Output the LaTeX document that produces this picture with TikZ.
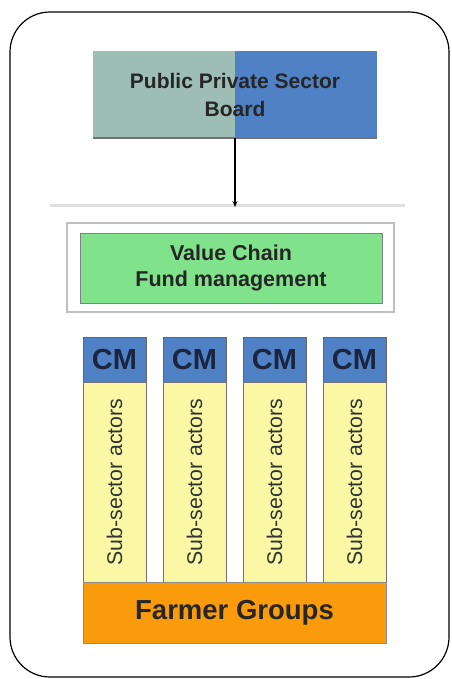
\documentclass[tikz,border=0pt]{standalone}
\usepackage{fontspec}
\setmainfont{Liberation Sans}
\usetikzlibrary{arrows.meta}
\definecolor{boardgrey}{HTML}{9DBDB5}
\definecolor{boardblue}{HTML}{4F81C4}
\definecolor{fundgreen}{HTML}{80E28A}
\definecolor{actoryellow}{HTML}{FBF8A5}
\definecolor{farmerorange}{HTML}{FA9B0B}
\definecolor{cmtext}{HTML}{1A2540}
\tikzset{
	box/.style={inner sep=0pt, minimum width=#1, anchor=center, align=center},
	cmbox/.style={box=63pt, minimum height=45pt, fill=boardblue, draw=black!60, line width=0.6pt, text=cmtext, font=\bfseries\fontsize{29}{32}\selectfont},
	actorbox/.style={box=63pt, minimum height=200pt, fill=actoryellow, draw=black!55, line width=0.6pt, text=black!80, rotate=90, font=\fontsize{21.3}{24}\selectfont}
}

\begin{document}
\begin{tikzpicture}[x=1pt, y=-1pt]
		%%%%% START %%%%%
		\useasboundingbox (0,0) rectangle (451,679);
		
		\draw[line width=1.2pt, rounded corners=40pt] (10,12) rectangle (449,677);
		
		\fill[boardgrey] (93,51) rectangle (235,138);
		\fill[boardblue] (235,51) rectangle (377,138);
		\node[box=284pt, minimum height=87pt, text=black!85, font=\bfseries\fontsize{21}{28}\selectfont] (board) at (235,94.5) {\raisebox{-2pt}{Public Private Sector}\\\raisebox{-2pt}{Board}};
		\draw[line width=1.5pt, color=black!55] (board.south west) -- (board.south east);
		
		\draw[line width=3pt, color=black!12] (50,205) -- (405,205);
		\coordinate (arrowend) at (235,207);
		\draw[line width=1.1pt, -{Stealth[length=6pt, width=5pt]}] (board.south) -- (arrowend);
		
		\node[box=327pt, minimum height=89pt, draw=black!25, line width=1.8pt, fill=white] (fundframe) at (230.5,267.5) {};
		\node[box=302pt, minimum height=70pt, fill=fundgreen, draw=black!50, line width=0.6pt, text=black!85, font=\bfseries\fontsize{21.5}{26}\selectfont] (fund) at (231,268) {Value Chain\\Fund management};
		
		\foreach \i in {0,...,3}{
			\node[cmbox] (cm\i) at (114.5+80*\i,359.5) {CM};
			\node[actorbox, minimum width=200pt, minimum height=63pt] (actors\i) at (114.5+80*\i,482) {Sub-sector actors};
		}
		
		\node[box=303pt, minimum height=61pt, fill=farmerorange, draw=black!45, line width=0.6pt, text=black!85, font=\bfseries\fontsize{27.5}{30}\selectfont] (farmers) at (234.5,612.5) {Farmer Groups};
		
		%%%%% END %%%%%
	\end{tikzpicture}
\end{document}
